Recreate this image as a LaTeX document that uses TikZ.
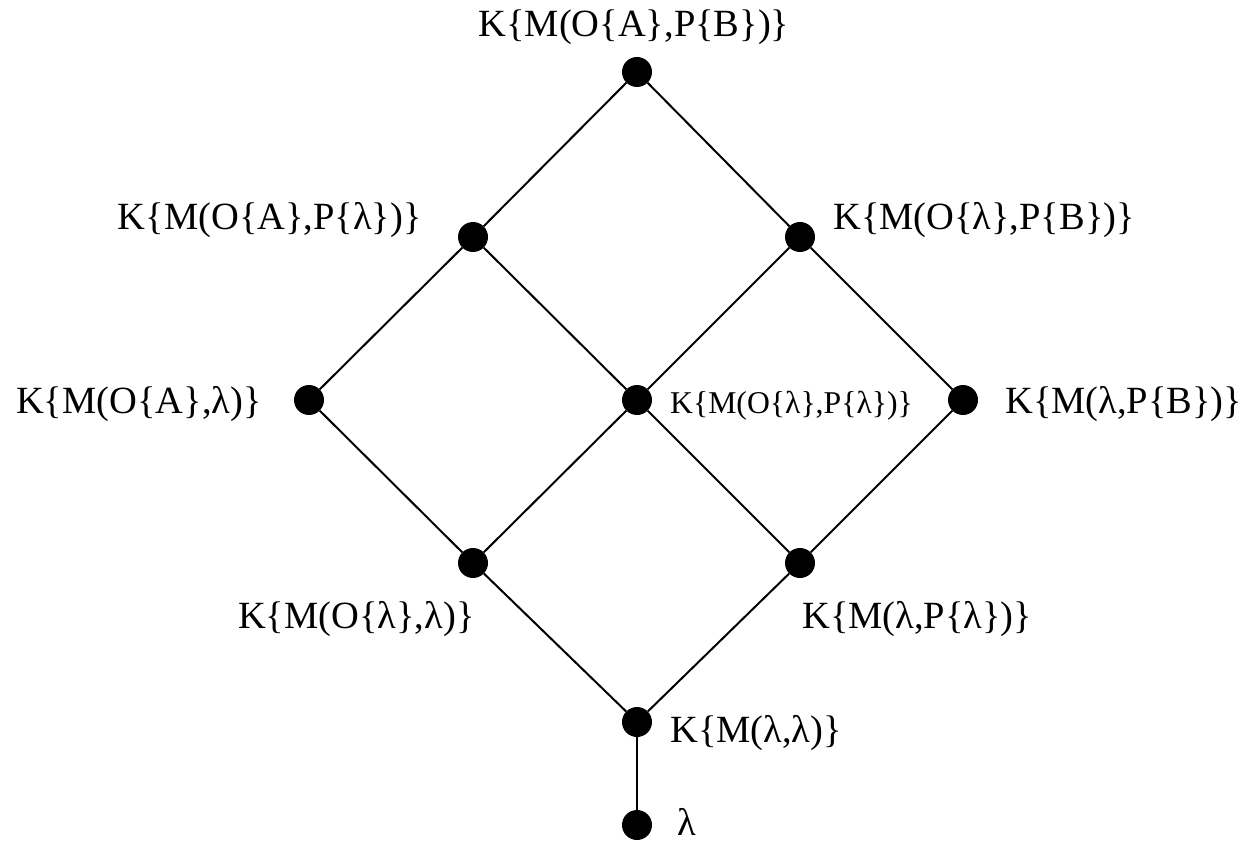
\documentclass[tikz,border=0pt]{standalone}
\usepackage{fontspec}
\setmainfont{Liberation Serif}
\begin{document}
\begin{tikzpicture}[x=1pt,y=-1pt,
  dot/.style={circle,fill=black,inner sep=0pt,minimum size=30pt},
  lab/.style={inner sep=0pt,font=\fontsize{38.5}{40}\selectfont},
  smalllab/.style={inner sep=0pt,font=\fontsize{31.7}{33}\selectfont},
  edge/.style={line width=2pt}]
\useasboundingbox (0,0) rectangle (1250,842);
\node[dot] (t) at (637,72) {};
\node[dot] (l) at (473,237) {};
\node[dot] (r) at (800,237) {};
\node[dot] (ll) at (309,400) {};
\node[dot] (m) at (637,400) {};
\node[dot] (rr) at (963,400) {};
\node[dot] (bl) at (473,563) {};
\node[dot] (br) at (800,563) {};
\node[dot] (b) at (637,722) {};
\node[dot] (z) at (637,825) {};
\draw[edge] (t) -- (l);
\draw[edge] (t) -- (r);
\draw[edge] (l) -- (ll);
\draw[edge] (l) -- (m);
\draw[edge] (r) -- (m);
\draw[edge] (r) -- (rr);
\draw[edge] (ll) -- (bl);
\draw[edge] (m) -- (bl);
\draw[edge] (m) -- (br);
\draw[edge] (rr) -- (br);
\draw[edge] (bl) -- (b);
\draw[edge] (br) -- (b);
\draw[edge] (b) -- (z);
\node[lab,anchor=base] (tl) at (634,37) {K\{M(O\{A\},P\{B\})\}};
\node[lab,anchor=base east] (lL) at (422,230) {K\{M(O\{A\},P\{λ\})\}};
\node[lab,anchor=base west] (rL) at (833,230) {K\{M(O\{λ\},P\{B\})\}};
\node[lab,anchor=base west] (llL) at (16,413) {K\{M(O\{A\},λ)\}};
\node[smalllab,anchor=base west] (mL) at (670,413) {K\{M(O\{λ\},P\{λ\})\}};
\node[lab,anchor=base west] (rrL) at (1005,413) {K\{M(λ,P\{B\})\}};
\node[lab,anchor=base west] (blL) at (238,628) {K\{M(O\{λ\},λ)\}};
\node[lab,anchor=base west] (brL) at (802,628) {K\{M(λ,P\{λ\})\}};
\node[lab,anchor=base west] (bL) at (670,742) {K\{M(λ,λ)\}};
\node[lab,anchor=base west] (zL) at (677,835) {λ};
\end{tikzpicture}
\end{document}
